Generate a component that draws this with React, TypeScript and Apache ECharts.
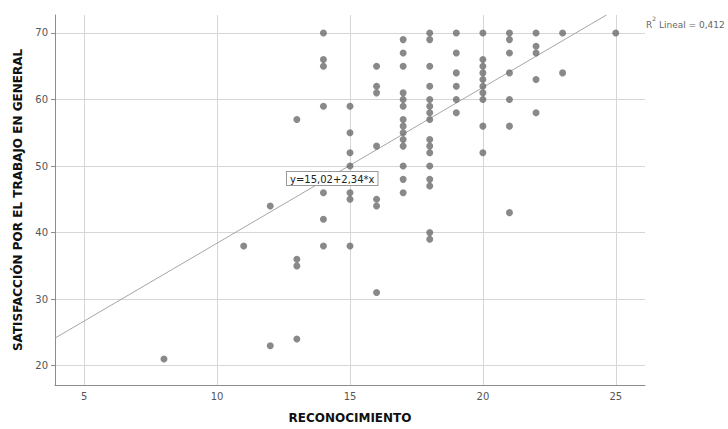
import React, { useEffect, useRef } from "react";
import * as echarts from "echarts";

// RECONOCIMIENTO values (x) and SATISFACCIÓN values (y) for each x column
const reconocimiento = [8, 11, 12, 13, 14, 15, 16, 17, 18, 19, 20, 21, 22, 23, 25];
const satisfaccion = [
  [21],
  [38],
  [44, 23],
  [57, 36, 35, 24],
  [70, 66, 65, 59, 46, 42, 38],
  [59, 55, 52, 50, 46, 45, 38],
  [65, 62, 61, 53, 45, 44, 31],
  [69, 67, 65, 61, 60, 59, 57, 56, 55, 54, 53, 50, 48, 46],
  [70, 69, 65, 62, 60, 59, 58, 57, 54, 53, 52, 50, 48, 47, 40, 39],
  [70, 67, 64, 62, 60, 58],
  [70, 66, 65, 64, 63, 62, 61, 60, 56, 52],
  [70, 69, 67, 64, 60, 56, 43],
  [70, 68, 67, 63, 58],
  [70, 64],
  [70],
];
const xTicks = [5, 10, 15, 20, 25];
const yTicks = [20, 30, 40, 50, 60, 70];
const intercept = 15.02;
const slope = 2.34;
const r2 = "0,412";
const xMin = 3.9;
const xMax = 26.1;
const yMin = 17.1;
const yMax = 72.7;

const FONT = "DejaVu Sans";

export default function App() {
  const ref = useRef<HTMLDivElement>(null);
  useEffect(() => {
    if (!ref.current) return;
    const chart = echarts.init(ref.current, null, { renderer: "svg" });
    const points: number[][] = [];
    reconocimiento.forEach((x, i) => {
      satisfaccion[i].forEach((y) => points.push([x, y]));
    });
    const lineEndX = Math.min(xMax, (yMax - intercept) / slope);
    const fitLine = [
      [xMin, intercept + slope * xMin],
      [lineEndX, intercept + slope * lineEndX],
    ];
    chart.setOption({
      animation: false,
      backgroundColor: "#ffffff",
      textStyle: { fontFamily: FONT },
      grid: { left: 55, top: 15, width: 590, height: 372 },
      xAxis: {
        type: "value",
        min: xMin,
        max: xMax,
        name: "RECONOCIMIENTO",
        nameLocation: "middle",
        nameGap: 27,
        nameTextStyle: { fontFamily: FONT, fontSize: 12, fontWeight: "bold", color: "#111" },
        axisLine: { show: true, lineStyle: { color: "#8c8c8c", width: 1 } },
        axisTick: { show: false, customValues: xTicks },
        axisLabel: { customValues: xTicks, fontSize: 10, color: "#555", margin: 6, fontFamily: FONT },
        splitLine: { show: true, lineStyle: { color: "#d6d6d6", width: 1 } },
      },
      yAxis: {
        type: "value",
        min: yMin,
        max: yMax,
        name: "SATISFACCIÓN POR EL TRABAJO EN GENERAL",
        nameLocation: "middle",
        nameGap: 29,
        nameTextStyle: { fontFamily: FONT, fontSize: 12, fontWeight: "bold", color: "#111" },
        axisLine: { show: true, lineStyle: { color: "#8c8c8c", width: 1 } },
        axisTick: { show: true, length: 4, customValues: yTicks, lineStyle: { color: "#8c8c8c" } },
        axisLabel: { customValues: yTicks, fontSize: 10, color: "#555", margin: 7, fontFamily: FONT },
        splitLine: { show: true, lineStyle: { color: "#d6d6d6", width: 1 } },
      },
      series: [
        {
          type: "line",
          data: fitLine,
          showSymbol: false,
          symbol: "none",
          lineStyle: { color: "#a6a6a6", width: 1 },
          silent: true,
          z: 1,
        },
        {
          type: "scatter",
          data: points,
          symbolSize: 7,
          itemStyle: { color: "#6b6b6b" },
          z: 2,
        },
      ],
      graphic: [
        {
          type: "text",
          left: 286,
          top: 171,
          z: 10,
          style: {
            text: "y=15,02+2,34*x",
            font: `10px "${FONT}"`,
            fill: "#222",
            backgroundColor: "#ffffff",
            borderColor: "#999",
            borderWidth: 1,
            padding: [2, 3, 1, 3],
          },
        },
        {
          type: "text",
          left: 646,
          top: 15,
          z: 10,
          style: {
            text: `{b|R}{s|2}{b| Lineal = ${r2}}`,
            rich: {
              b: { fontSize: 9, fontFamily: FONT, fill: "#666", color: "#666", verticalAlign: "bottom", lineHeight: 14 },
              s: { fontSize: 6, fontFamily: FONT, fill: "#666", color: "#666", verticalAlign: "top", lineHeight: 14 },
            },
          },
        },
      ],
    });
    return () => chart.dispose();
  }, []);
  return (
    <div
      ref={ref}
      style={{ position: "fixed", left: 0, top: 0, width: 728, height: 429 }}
    />
  );
}
